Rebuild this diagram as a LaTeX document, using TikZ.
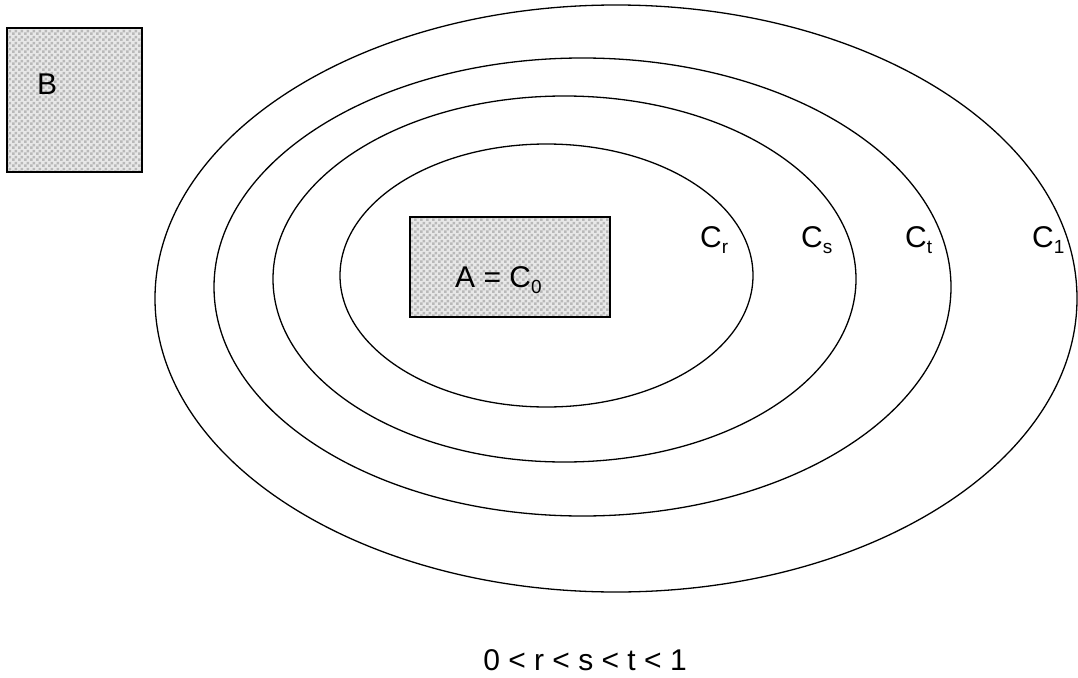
\documentclass[tikz,border=0pt]{standalone}
\usepackage{fontspec}
\setmainfont{Liberation Sans}
\usetikzlibrary{shapes.geometric,patterns.meta}
\newcommand{\mysub}[1]{\raisebox{-6pt}{\fontsize{19}{19}\selectfont #1}}
\tikzdeclarepattern{
  name=mychecker,
  type=uncolored,
  bottom left={(0pt,0pt)},
  top right={(6pt,6pt)},
  tile size={(6pt,6pt)},
  code={\fill (0pt,0pt) rectangle (3pt,3pt); \fill (3pt,3pt) rectangle (6pt,6pt);}
}
\tikzset{
  ell/.style={draw, ellipse, inner sep=0pt, outer sep=0pt, line width=1.3pt},
  hatchbox/.style={rectangle, inner sep=0pt,
    preaction={fill=gray!18},
    preaction={pattern=mychecker, pattern color=gray!55},
    draw, line width=1.8pt},
  lbl/.style={inner sep=0pt, font=\fontsize{30}{32}\selectfont}
}
\begin{document}
\begin{tikzpicture}[x=1pt,y=-1pt]
\useasboundingbox (0,0) rectangle (1078,677);
% ellipses
\node[ell, minimum width=922pt, minimum height=587pt] (c1) at (616,298.5) {};
\node[ell, minimum width=737pt, minimum height=458pt] (ct) at (582.5,287) {};
\node[ell, minimum width=583pt, minimum height=366pt] (cs) at (564.5,279) {};
\node[ell, minimum width=413pt, minimum height=263pt] (cr) at (546.5,275.5) {};
% boxes
\node[hatchbox, minimum width=135pt, minimum height=144pt] (boxB) at (74.5,100) {};
\node[hatchbox, minimum width=200pt, minimum height=100pt] (boxA) at (510,267) {};
% labels
\node[lbl, anchor=base west] (labB) at (37,94) {B};
\node[lbl, anchor=base west] (labA) at (455,287) {A = C\mysub{0}};
\node[lbl, anchor=base west] (labr) at (700,247) {C\mysub{r}};
\node[lbl, anchor=base west] (labs) at (801,247) {C\mysub{s}};
\node[lbl, anchor=base west] (labt) at (905,247) {C\mysub{t}};
\node[lbl, anchor=base west] (lab1) at (1032,247) {C\mysub{1}};
\node[lbl, anchor=base] (cond) at (585,670) {0 < r < s < t < 1};
\end{tikzpicture}
\end{document}
